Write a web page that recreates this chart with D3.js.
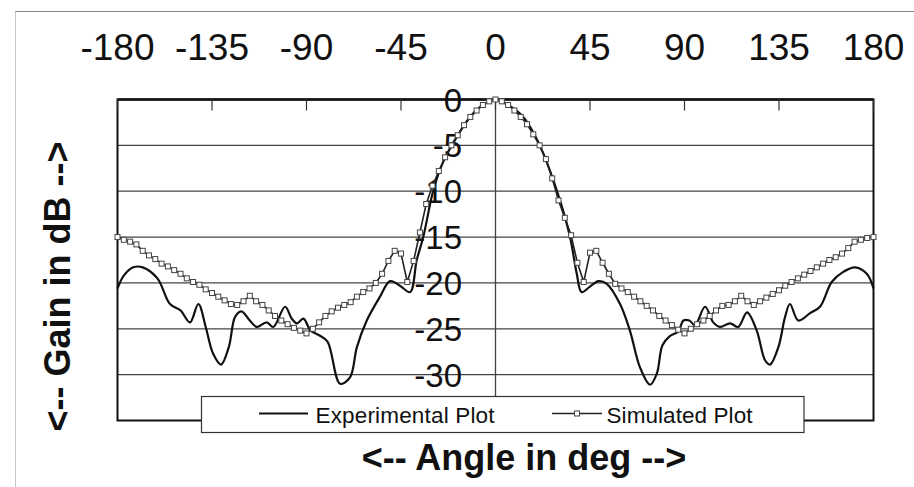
<!DOCTYPE html>
<html><head><meta charset="utf-8">
<script src="https://cdn.jsdelivr.net/npm/d3@7"></script>
<style>
html,body{margin:0;padding:0;background:#fff;}
svg{display:block;font-family:"Liberation Sans",Arial,Helvetica,sans-serif;}
</style></head>
<body><svg id="c" width="914" height="487"></svg>
<script>
const angleTicks = [-180,-135,-90,-45,0,45,90,135,180];
const gainTicks = [0,-5,-10,-15,-20,-25,-30,-35];

const simAngles = [-180,-177,-174,-171,-168,-165,-162,-159,-156,-153,-150,-147,-144,-141,-138,-135,-132,-129,-126,-123,
  -120,-117,-114,-111,-108,-105,-102,-99,-96,-93,-90,-87,-84,-81,-78,-75,-72,-69,-66,-63,
  -60,-57,-54,-51,-48,-45,-42,-39,-36,-33,-30,-27,-24,-21,-18,-15,-12,-9,-6,-3,0,
  3,6,9,12,15,18,21,24,27,30,33,36,39,42,45,48,51,54,57,60,
  63,66,69,72,75,78,81,84,87,90,93,96,99,102,105,108,111,114,117,120,
  123,126,129,132,135,138,141,144,147,150,153,156,159,162,165,168,171,174,177,180];
const simValues = [-15.0,-15.3,-15.5,-15.8,-16.5,-17.0,-17.4,-17.9,-18.2,-18.6,-19.0,-19.5,-19.9,-20.2,-20.7,-21.1,-21.5,-21.9,-22.3,-22.4,
  -22.0,-21.4,-22.0,-22.4,-23.0,-23.6,-24.1,-24.5,-24.9,-25.2,-25.5,-25.0,-24.3,-23.6,-23.1,-22.7,-22.4,-22.1,-21.5,-21.0,
  -20.6,-20.0,-19.0,-17.6,-16.5,-16.8,-19.9,-17.6,-14.5,-11.4,-9.4,-7.8,-6.3,-5.0,-3.9,-2.8,-1.9,-1.2,-0.6,-0.2,0,
  -0.2,-0.6,-1.2,-1.9,-2.7,-3.8,-5.0,-6.5,-8.6,-11.0,-12.9,-14.8,-17.8,-19.9,-16.7,-16.5,-17.8,-19.0,-20.1,-20.6,
  -21.0,-21.5,-22.0,-22.5,-23.0,-23.6,-24.1,-24.6,-25.1,-25.5,-25.0,-24.5,-24.1,-23.6,-23.0,-22.5,-22.4,-22.0,-21.4,-22.0,
  -22.4,-22.0,-21.6,-21.2,-20.8,-20.3,-19.9,-19.5,-19.1,-18.7,-18.3,-17.9,-17.5,-17.2,-16.8,-16.2,-15.5,-15.3,-15.1,-15.0];

const expAngles = [-180,-177,-172.5,-168,-161,-155,-150,-145.5,-141.5,-138,-134.5,-130.7,-127,-124,-121,-117,-113.7,-109,-105.8,-100.2,
  -97,-94.5,-91.5,-88,-84,-80,-74,-69.3,-66,-61.3,-55,-50.2,-45.5,-40.7,-37.5,-34.4,-29.6,-24.9,-18.5,-12.1,-6,0,
  6,13.2,18,22.8,30.7,35.5,38.7,41,45,49,53,59.3,64,68.8,73.6,76.8,79.5,83,87,89.5,92.3,95,99.8,
  103.7,106.9,111.7,115.6,119.8,124.4,128.3,130.7,134.7,137.9,140.2,144.2,149.8,154.5,160.1,165.6,171.2,176.8,180];
const expValues = [-20.6,-19.2,-18.3,-18.3,-19.5,-22.3,-23.0,-24.3,-22.3,-24.8,-27.7,-28.9,-27.0,-23.7,-23.1,-24.1,-24.8,-24.3,-24.8,-22.6,
  -23.9,-24.4,-23.9,-25.2,-25.7,-26.4,-31.0,-30.3,-27.0,-24.1,-21.5,-19.8,-20.3,-21.0,-17.5,-15.0,-9.9,-6.8,-4.1,-1.9,-0.6,0,
  -0.6,-1.9,-3.6,-5.9,-11.0,-15.0,-19.0,-21.0,-20.4,-19.8,-20.1,-22.3,-25.2,-29.2,-31.1,-29.9,-26.8,-25.8,-25.3,-24.1,-24.1,-24.6,-22.6,
  -24.3,-24.8,-24.4,-24.8,-23.2,-25.2,-28.4,-28.9,-27.0,-23.7,-22.3,-24.1,-23.3,-22.6,-19.9,-18.8,-18.3,-19.0,-20.6];

const legendLabels = ["Experimental Plot","Simulated Plot"];
const xTitle = "<-- Angle in deg -->";
const yTitle = "<-- Gain in dB -->";

const svg = d3.select("#c");
const L = 117.5, R = 873.5, T = 99.5, B = 420.5;
const x = d3.scaleLinear().domain([-180,180]).range([L,R]);
const y = d3.scaleLinear().domain([-35,0]).range([B,T]);

// outer frame
svg.append("line").attr("x1",15.5).attr("x2",914).attr("y1",11.5).attr("y2",11.5).attr("stroke","#8a8a8a").attr("stroke-width",1);
svg.append("line").attr("x1",15.5).attr("x2",15.5).attr("y1",11.5).attr("y2",487).attr("stroke","#8a8a8a").attr("stroke-width",1).attr("stroke-dasharray","1,1");

// gridlines
svg.append("g").selectAll("line").data(gainTicks).join("line")
  .attr("x1",L).attr("x2",R).attr("y1",d=>y(d)).attr("y2",d=>y(d))
  .attr("stroke","#444").attr("stroke-width",1.2);

// center vertical axis
svg.append("line").attr("x1",x(0)).attr("x2",x(0)).attr("y1",T).attr("y2",B).attr("stroke","#444").attr("stroke-width",1.3);

// frame
svg.append("rect").attr("x",L).attr("y",T).attr("width",R-L).attr("height",B-T)
  .attr("fill","none").attr("stroke","#111").attr("stroke-width",2);
svg.append("line").attr("x1",L).attr("x2",R).attr("y1",T).attr("y2",T).attr("stroke","#111").attr("stroke-width",2.6);

// x ticks (inward from top line)
svg.append("g").selectAll("line").data(angleTicks).join("line")
  .attr("x1",d=>x(d)).attr("x2",d=>x(d)).attr("y1",T).attr("y2",T+11)
  .attr("stroke","#333").attr("stroke-width",1.2);

// x tick labels at top
svg.append("g").selectAll("text").data(angleTicks).join("text")
  .attr("x",d=>x(d)).attr("y",60).attr("text-anchor","middle")
  .attr("font-size",37).attr("fill","#111").text(d=>d);

// y tick labels beside center axis
svg.append("g").selectAll("text").data(gainTicks).join("text")
  .attr("x",462).attr("y",d=>y(d)+12).attr("text-anchor","end")
  .attr("font-size",33).attr("fill","#111").text(d=>d);

// series
const simPts = simAngles.map((a,i)=>[a,simValues[i]]);
const expPts = expAngles.map((a,i)=>[a,expValues[i]]);

svg.append("path").datum(expPts)
  .attr("d",d3.line().x(d=>x(d[0])).y(d=>y(d[1])).curve(d3.curveCatmullRom.alpha(0.5)))
  .attr("fill","none").attr("stroke","#111").attr("stroke-width",2.2);

svg.append("path").datum(simPts)
  .attr("d",d3.line().x(d=>x(d[0])).y(d=>y(d[1])))
  .attr("fill","none").attr("stroke","#222").attr("stroke-width",1.6);
svg.append("g").selectAll("rect").data(simPts).join("rect")
  .attr("x",d=>x(d[0])-2.5).attr("y",d=>y(d[1])-2.5).attr("width",5).attr("height",5)
  .attr("fill","#fff").attr("stroke","#444").attr("stroke-width",1);

// legend
const lg = svg.append("g");
lg.append("rect").attr("x",201.5).attr("y",396.5).attr("width",602.5).attr("height",36)
  .attr("fill","#fff").attr("stroke","#333").attr("stroke-width",1.2);
lg.append("line").attr("x1",259).attr("x2",308).attr("y1",413.5).attr("y2",413.5).attr("stroke","#111").attr("stroke-width",2.2);
lg.append("text").attr("x",315.5).attr("y",422.5).attr("font-size",22.5).attr("fill","#111").attr("textLength",179).text(legendLabels[0]);
lg.append("line").attr("x1",552).attr("x2",602).attr("y1",413.5).attr("y2",413.5).attr("stroke","#222").attr("stroke-width",1.6);
lg.append("rect").attr("x",574.5).attr("y",411).attr("width",5).attr("height",5).attr("fill","#fff").attr("stroke","#444");
lg.append("text").attr("x",606.5).attr("y",422.5).attr("font-size",22.5).attr("fill","#111").attr("textLength",146).text(legendLabels[1]);

// axis titles
svg.append("text").attr("x",524).attr("y",470).attr("text-anchor","middle")
  .attr("font-size",36).attr("font-weight","bold").attr("fill","#111").text(xTitle);
svg.append("text").attr("transform","translate(70,286.5) rotate(-90)").attr("text-anchor","middle")
  .attr("font-size",36).attr("font-weight","bold").attr("fill","#111").text(yTitle);
</script></body></html>
